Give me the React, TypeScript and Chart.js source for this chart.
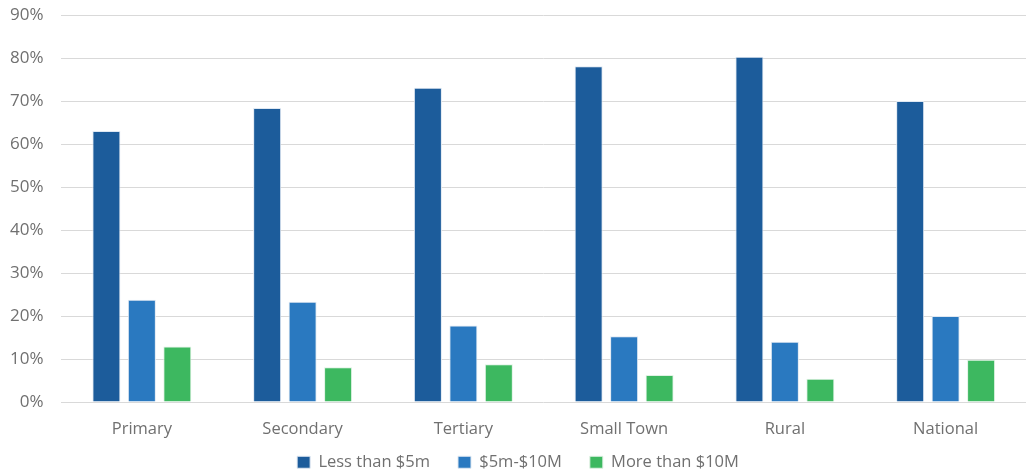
import React, { useEffect, useRef } from "react";
import { Chart, registerables } from "chart.js";

Chart.register(...registerables);

const categories = ["Primary", "Secondary", "Tertiary", "Small Town", "Rural", "National"];
const lessThan5m = [63, 68.4, 73.1, 78.1, 80.3, 70];
const from5mTo10m = [23.8, 23.3, 17.8, 15.3, 14.0, 20];
const moreThan10m = [12.9, 8.1, 8.8, 6.3, 5.4, 9.8];
const seriesLabels = ["Less than $5m", "$5m-$10M", "More than $10M"];

export default function App() {
  const ref = useRef<HTMLCanvasElement>(null);
  useEffect(() => {
    document.body.style.margin = "0";
    const font = { family: "'Open Sans', 'Noto Sans', sans-serif", size: 16.5 };
    const legendFix = {
      id: "legendFix",
      afterInit(chart: any) {
        const lg = chart.legend;
        if (!lg) return;
        const origFit = lg.fit.bind(lg);
        lg.fit = () => {
          origFit();
          lg.height = 33;
        };
        const origDraw = lg.draw.bind(lg);
        lg.draw = (...args: any[]) => {
          const t = lg.top;
          lg.top = t - 12;
          origDraw(...args);
          lg.top = t;
        };
      },
    };
    const chart = new Chart(ref.current!, {
      type: "bar",
      data: {
        labels: categories,
        datasets: [
          { label: seriesLabels[0], data: lessThan5m, backgroundColor: "#1c5c9b", borderColor: "#dfe8f2", borderWidth: 1 },
          { label: seriesLabels[1], data: from5mTo10m, backgroundColor: "#2a79c0", borderColor: "#dfe8f2", borderWidth: 1 },
          { label: seriesLabels[2], data: moreThan10m, backgroundColor: "#3db860", borderColor: "#e0f2e4", borderWidth: 1 },
        ],
      },
      plugins: [legendFix],
      options: {
        animation: false,
        responsive: false,
        maintainAspectRatio: false,
        layout: { padding: { left: 10, right: 0, top: 15, bottom: 0 } },
        datasets: { bar: { categoryPercentage: 0.662, barPercentage: 0.79 } },
        plugins: {
          legend: {
            position: "bottom",
            labels: { boxWidth: 13, boxHeight: 12, color: "#707070", font, padding: 28 },
          },
          tooltip: { enabled: false },
        },
        scales: {
          x: {
            grid: { display: false },
            border: { display: false },
            ticks: { color: "#707070", font, padding: 9 },
            afterFit: (scale: any) => {
              scale.height = 36;
            },
          },
          y: {
            min: 0,
            max: 90,
            ticks: { stepSize: 10, color: "#707070", font: { ...font, size: 17 }, padding: 0, callback: (v: any) => v + "%" },
            grid: { color: "#d9d9d9", lineWidth: 1, drawTicks: true, tickLength: 18, tickColor: "rgba(0,0,0,0)" },
            border: { display: false },
          },
        },
      },
    });
    return () => chart.destroy();
  }, []);
  return (
    <div style={{ position: "absolute", left: 0, top: 0, width: 1026, height: 471 }}>
      <canvas ref={ref} width={1026} height={471} />
    </div>
  );
}
